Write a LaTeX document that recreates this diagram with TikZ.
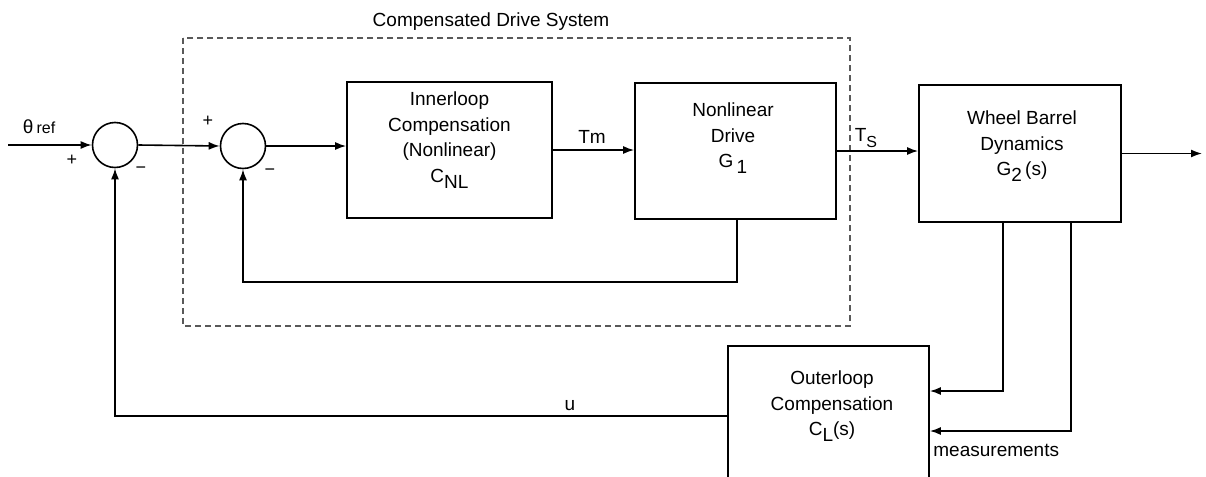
\documentclass[tikz,border=0pt]{standalone}
\usepackage{fontspec}
\setmainfont{Liberation Sans}
\usetikzlibrary{arrows.meta}
\tikzset{
  blk/.style={draw,line width=0.85pt,rectangle,inner sep=0pt},
  sumj/.style={draw,circle,line width=0.8pt,minimum size=22.5pt,inner sep=0pt},
  arr/.style={line width=0.8pt,-{Latex[length=5.5pt,width=4pt]}},
  txt/.style={font=\fontsize{9.5}{12.8}\selectfont,align=center,inner sep=0pt},
  sgn/.style={font=\fontsize{9}{9}\selectfont,inner sep=0pt},
  frame/.style={draw=black!65,densely dashed,line width=0.6pt}
}
\newcommand{\lsub}[1]{\raisebox{-0.55ex}{#1}}
\begin{document}
\begin{tikzpicture}[x=0.5pt,y=-0.5pt]
\useasboundingbox (0,0) rectangle (1206,477);
\clip (0,0) rectangle (1206,477);
% frame
\draw[frame] (183,38) rectangle (850,326);
\node[txt] (title) at (491,22) {Compensated Drive System};
% junctions
\node[sumj] (s1) at (115,145) {};
\node[sumj] (s2) at (243,146) {};
% blocks
\node[blk,minimum width=102.5pt,minimum height=68pt] (inner) at (449.5,150) {};
\node[txt] (innert) at (449.5,140) {Innerloop\\Compensation\\(Nonlinear)\\C\lsub{NL}};
\node[blk,minimum width=100.5pt,minimum height=68pt] (g1) at (735.5,151) {};
\node[txt] (g1t) at (733,138) {Nonlinear\\Drive\\G\,\lsub{1}};
\node[blk,minimum width=101pt,minimum height=68.5pt] (wheel) at (1020,153.5) {};
\node[txt] (wheelt) at (1022,146) {Wheel Barrel\\Dynamics\\G\lsub{2}\,(s)};
\node[blk,minimum width=100.5pt,minimum height=77pt] (outer) at (828.5,423) {};
\node[txt] (outert) at (832,406) {Outerloop\\Compensation\\C\lsub{L}(s)};
% coordinates
\coordinate (in) at (8,145);
\coordinate (out) at (1202,153.5);
\coordinate (fb1) at (737,282);
\coordinate (m1) at (1003,391);
\coordinate (m2) at (1071,431);
\coordinate (uy) at (0,416);
% connectors
\draw[arr] (in) -- (s1.west);
\draw[arr] (s1.east) -- (s2.west);
\draw[arr] (s2.east) -- (s2.east -| inner.west);
\draw[arr] (inner.east) -- (inner.east -| g1.west);
\draw[arr] (g1.east) -- (g1.east -| wheel.west);
\draw[arr] (wheel.east) -- (out);
\draw[arr] (g1.south -| fb1) -- (fb1) -| (s2.south);
\draw[arr] (wheel.south -| m1) |- (outer.east |- m1);
\draw[arr] (wheel.south -| m2) |- (outer.east |- m2);
\draw[arr] (outer.west |- uy) -| (s1.south);
% labels
\node[txt] (thr) at (39,127) {θ\,{\fontsize{8}{8}\selectfont ref}};
\node[sgn] (p1) at (72,160) {+};
\node[sgn] (n1) at (141,170) {−};
\node[sgn] (p2) at (208,121) {+};
\node[sgn] (n2) at (270,172) {−};
\node[txt] (tm) at (592,137) {Tm};
\node[txt] (ts) at (866,138) {T\lsub{\fontsize{8}{8}\selectfont S}};
\node[txt] (ul) at (570,406) {u};
\node[txt,anchor=west] (meas) at (933,450) {measurements};
\end{tikzpicture}
\end{document}
